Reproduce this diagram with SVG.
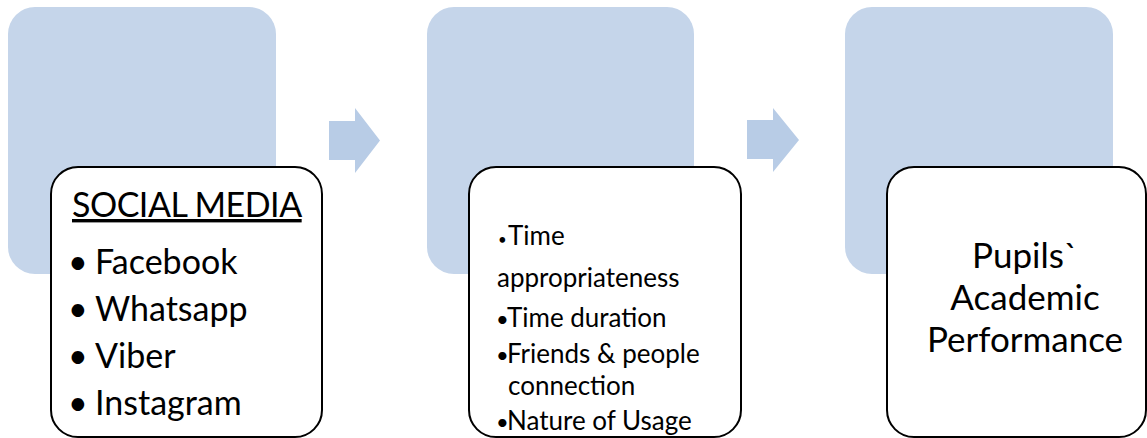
<svg xmlns="http://www.w3.org/2000/svg" width="1147" height="438" viewBox="0 0 1147 438">
  <style>
    .back { fill: #C5D5EA; }
    .card { fill: #FFFFFF; stroke: #000000; stroke-width: 2; }
    .step { fill: #B8CCE6; }
    text { font-family: Lato, "Open Sans", sans-serif; fill: #000000; }
    .t1 { font-size: 34px; }
    .t2 { font-size: 26px; }
    .b2 { font-size: 22px; }
    .t3 { font-size: 35px; text-anchor: middle; }
  </style>

  <!-- Stage 1: social media platforms -->
  <g id="node-social-media">
    <rect class="back" x="8" y="7" width="268" height="267" rx="27" ry="27"/>
    <rect class="card" x="51" y="167" width="271" height="270" rx="27" ry="27"/>
    <text class="t1" x="72" y="217" font-size="32" letter-spacing="-0.5" text-decoration="underline">SOCIAL MEDIA</text>
    <text class="t1" y="274"><tspan x="68">•</tspan><tspan x="95">Facebook</tspan></text>
    <text class="t1" y="321"><tspan x="68">•</tspan><tspan x="95">Whatsapp</tspan></text>
    <text class="t1" y="368"><tspan x="68">•</tspan><tspan x="95">Viber</tspan></text>
    <text class="t1" y="415"><tspan x="68">•</tspan><tspan x="95">Instagram</tspan></text>
  </g>

  <!-- Stage 2: usage factors -->
  <g id="node-usage-factors">
    <rect class="back" x="427" y="7" width="267" height="267" rx="27" ry="27"/>
    <rect class="card" x="469" y="167" width="272" height="270" rx="27" ry="27"/>
    <text class="t2" y="245"><tspan x="498" font-size="15">•</tspan><tspan x="508">Time</tspan></text>
    <text class="t2" x="497" y="287">appropriateness</text>
    <text class="t2" y="327"><tspan class="b2" x="496">•</tspan><tspan x="507">Time duration</tspan></text>
    <text class="t2" y="363"><tspan class="b2" x="496">•</tspan><tspan x="507">Friends &amp; people</tspan></text>
    <text class="t2" x="508" y="395">connection</text>
    <text class="t2" y="430"><tspan class="b2" x="496">•</tspan><tspan x="507">Nature of Usage</tspan></text>
  </g>

  <!-- Stage 3: outcome -->
  <g id="node-academic-performance">
    <rect class="back" x="845" y="7" width="268" height="267" rx="27" ry="27"/>
    <rect class="card" x="887" y="167" width="259" height="270" rx="27" ry="27"/>
    <text class="t3" x="1025" y="268">Pupils`</text>
    <text class="t3" x="1025" y="310">Academic</text>
    <text class="t3" x="1025" y="352">Performance</text>
  </g>

  <!-- Block arrows between stages -->
  <g id="connectors">
    <path class="step" d="M329 121 H355 V108 L380 140.5 L355 173 V160 H329 Z"/>
    <path class="step" d="M747 120 H773 V108 L799 140 L773 172 V159 H747 Z"/>
  </g>
</svg>
